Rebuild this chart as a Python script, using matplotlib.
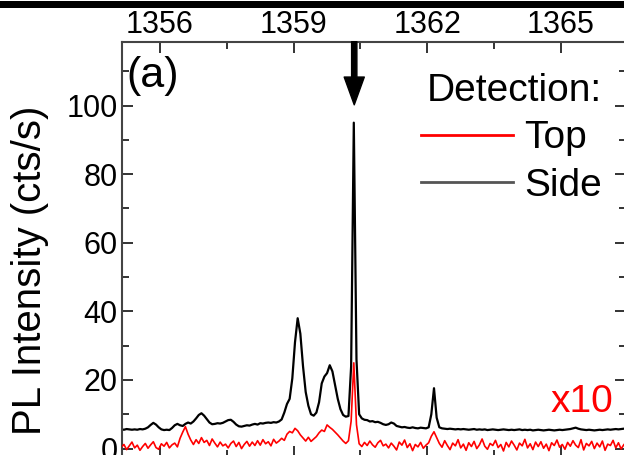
import numpy as np
import matplotlib
matplotlib.use("Agg")
import matplotlib.pyplot as plt
from matplotlib.patches import Rectangle
from matplotlib.ticker import MultipleLocator

plt.rcParams['font.family'] = ['Liberation Sans', 'DejaVu Sans']

# spectrometer grid (meV), step 0.06
x_start, x_step, n_pts = 1355.13, 0.06, 191
energy = x_start + x_step * np.arange(n_pts)

# side detection (cts/s)
side = [
    5.6, 5.5, 5.7, 5.6, 5.5, 5.6, 5.5, 5.7, 5.6, 5.8,
    6.2, 6.9, 7.5, 7.0, 6.2, 5.6, 5.4, 5.5, 5.4, 6.0,
    6.8, 7.2, 6.8, 6.6, 7.2, 7.6, 7.3, 7.9, 8.8, 9.8,
    10.3, 9.6, 8.6, 7.6, 7.1, 7.2, 7.4, 7.3, 7.5, 7.9,
    8.3, 8.4, 7.8, 7.0, 6.5, 6.4, 6.6, 6.8, 6.7, 7.0,
    7.2, 7.0, 7.4, 7.3, 7.5, 7.6, 7.5, 7.7, 7.6, 7.9,
    8.5, 10.5, 13.0, 14.5, 20.5, 31.0, 38.0, 33.5, 24.0, 16.5,
    12.5, 10.0, 9.6, 10.5, 13.5, 19.0, 21.0, 22.0, 24.3, 22.5,
    18.5, 14.5, 11.5, 9.8, 9.3, 9.5, 24.0, 95.0, 26.0, 10.0,
    8.8, 8.4, 8.3, 7.9, 8.0, 7.7, 7.8, 7.5, 7.1, 6.9,
    7.1, 7.6, 7.3, 6.6, 6.4, 6.2, 6.3, 6.1, 6.0, 6.2,
    6.0, 5.9, 6.1, 6.0, 5.9, 6.2, 10.0, 17.6, 9.0, 6.2,
    5.9, 5.8, 5.7, 5.8, 5.7, 5.6, 5.7, 5.6, 5.7, 5.6,
    5.5, 5.6, 5.7, 5.5, 5.6, 5.5, 5.6, 5.4, 5.5, 5.6,
    5.5, 5.4, 5.5, 5.6, 5.5, 5.4, 5.5, 5.4, 5.5, 5.6,
    5.4, 5.5, 5.4, 5.5, 5.3, 5.4, 5.5, 5.4, 5.3, 5.4,
    5.5, 5.4, 5.3, 5.4, 5.5, 5.4, 5.5, 5.6, 5.7, 5.9,
    6.1, 5.8, 5.6, 5.5, 5.4, 5.5, 5.4, 5.3, 5.4, 5.5,
    5.4, 5.5, 5.6, 5.5, 5.6, 5.7, 5.6, 5.7, 5.8, 5.9, 5.8,
]

# top detection, already multiplied by 10
top_x10 = [
    0.4, 1.2, -0.3, 0.8, 1.9, 0.2, 1.0, -0.5, 0.6, 1.5,
    0.1, 1.1, 2.0, 0.3, -0.2, 1.4, 0.7, 1.8, 0.2, 1.1,
    1.6, 0.5, 3.0, 4.8, 6.4, 4.2, 2.5, 1.2, 2.6, 1.5,
    3.2, 1.8, 2.4, 0.9, 2.8, 1.6, 0.5, 1.9, 0.8, 1.3,
    0.2, 1.5, 2.2, 0.6, 1.8, 0.0, 1.2, 2.1, 0.7, 1.9,
    0.9, 2.3, 1.0, 2.6, 1.4, 2.0, 0.8, 2.7, 1.6, 2.2,
    3.0, 2.4, 4.2, 5.0, 4.6, 5.9, 5.2, 4.0, 3.1, 2.2,
    3.3, 2.1, 2.8, 3.5, 4.6, 5.4, 5.0, 6.9, 6.2, 5.6,
    4.8, 4.0, 3.1, 2.2, 1.5, 2.3, 8.0, 25.0, 7.0, 1.4,
    0.6, 1.8, 0.9, 2.2, 1.1, 0.4, 1.7, 2.4, 0.8, 1.3,
    0.2, 1.6, 0.7, -0.4, 1.9, 1.0, 2.5, 0.3, 1.4, -0.6,
    1.2, 0.5, 1.8, 0.1, 1.0, 1.7, 3.6, 4.9, 3.2, 1.5,
    0.4, 2.3, 0.9, -0.3, 1.6, 0.8, 2.6, 0.2, 1.3, -0.5,
    1.7, 0.6, 2.1, 0.0, 1.1, 2.8, 0.7, -0.2, 1.5, 0.9,
    2.4, 0.3, 1.2, -0.7, 1.8, 0.5, 2.2, 1.0, -0.4, 1.6,
    0.8, 2.7, 0.2, 1.4, -0.3, 1.9, 0.6, 2.0, 0.1, 1.3,
    -0.6, 1.7, 0.9, 2.5, 0.4, 1.2, -0.2, 1.8, 0.7, 2.3,
    1.0, 0.3, 2.6, -0.4, 1.5, 0.8, 2.1, 0.0, 1.6, 0.5,
    2.2, -0.5, 1.3, 0.9, 2.4, 0.2, 1.7, -0.1, 1.1, 2.0, 0.6,
]

arrow_x = 1360.36

fig = plt.figure(figsize=(6.24, 4.55), dpi=100)
# dark rule along the top edge
fig.add_artist(Rectangle((0, 1 - 8 / 455), 1, 7 / 455, transform=fig.transFigure,
                         color='black', lw=0))

ax = fig.add_axes([121.7 / 624, -2 / 455, 504.3 / 624, 415.3 / 455])

ax.plot(energy, side, color='black', lw=1.6, label='Side', zorder=2)
ax.plot(energy, top_x10, color='#ff0000', lw=1.2, label='Top', zorder=3)

ax.set_xlim(1355.14, 1366.46)
ax.set_ylim(-2.45, 118.6)

ax.xaxis.set_major_locator(MultipleLocator(3))
ax.xaxis.set_minor_locator(MultipleLocator(1.5))
ax.yaxis.set_major_locator(MultipleLocator(20))
ax.yaxis.set_minor_locator(MultipleLocator(10))
ax.tick_params(which='both', direction='in', top=True, right=True, bottom=True, left=True,
               labeltop=True, labelbottom=False, width=1.4, color='#333333')
ax.tick_params(which='major', length=8, labelsize=22)
ax.tick_params(axis='x', which='major', pad=1.5)
ax.tick_params(axis='y', which='major', pad=3)
ax.tick_params(which='minor', length=5)
for sp in ax.spines.values():
    sp.set_linewidth(1.5)
    sp.set_color('#444444')

ax.set_ylabel('PL Intensity (cts/s)', fontsize=29, va='center')
ax.yaxis.set_label_coords(-0.182, 0.45)

ax.text(0.01, 0.917, '(a)', transform=ax.transAxes, fontsize=31, ha='left', va='center')
ax.text(0.974, 0.133, 'x10', transform=ax.transAxes, fontsize=28, color='#ff0000',
        ha='right', va='center')

ax.annotate('', xy=(arrow_x, 100.2), xytext=(arrow_x, 118.6),
            arrowprops=dict(facecolor='black', edgecolor='black', width=3.8,
                            headwidth=14.5, headlength=20, shrink=0))

handles, labels = ax.get_legend_handles_labels()
leg = ax.legend(handles[::-1], labels[::-1], title='Detection:', frameon=False,
                fontsize=28, title_fontsize=28, loc='upper right',
                bbox_to_anchor=(0.991, 0.972), handlelength=2.35, handletextpad=0.3,
                labelspacing=0.3, borderpad=0, alignment='right')
for h in leg.get_lines():
    h.set_linewidth(2.0)
leg.get_lines()[1].set_color('#555555')

fig.savefig('out.png', dpi=100)
